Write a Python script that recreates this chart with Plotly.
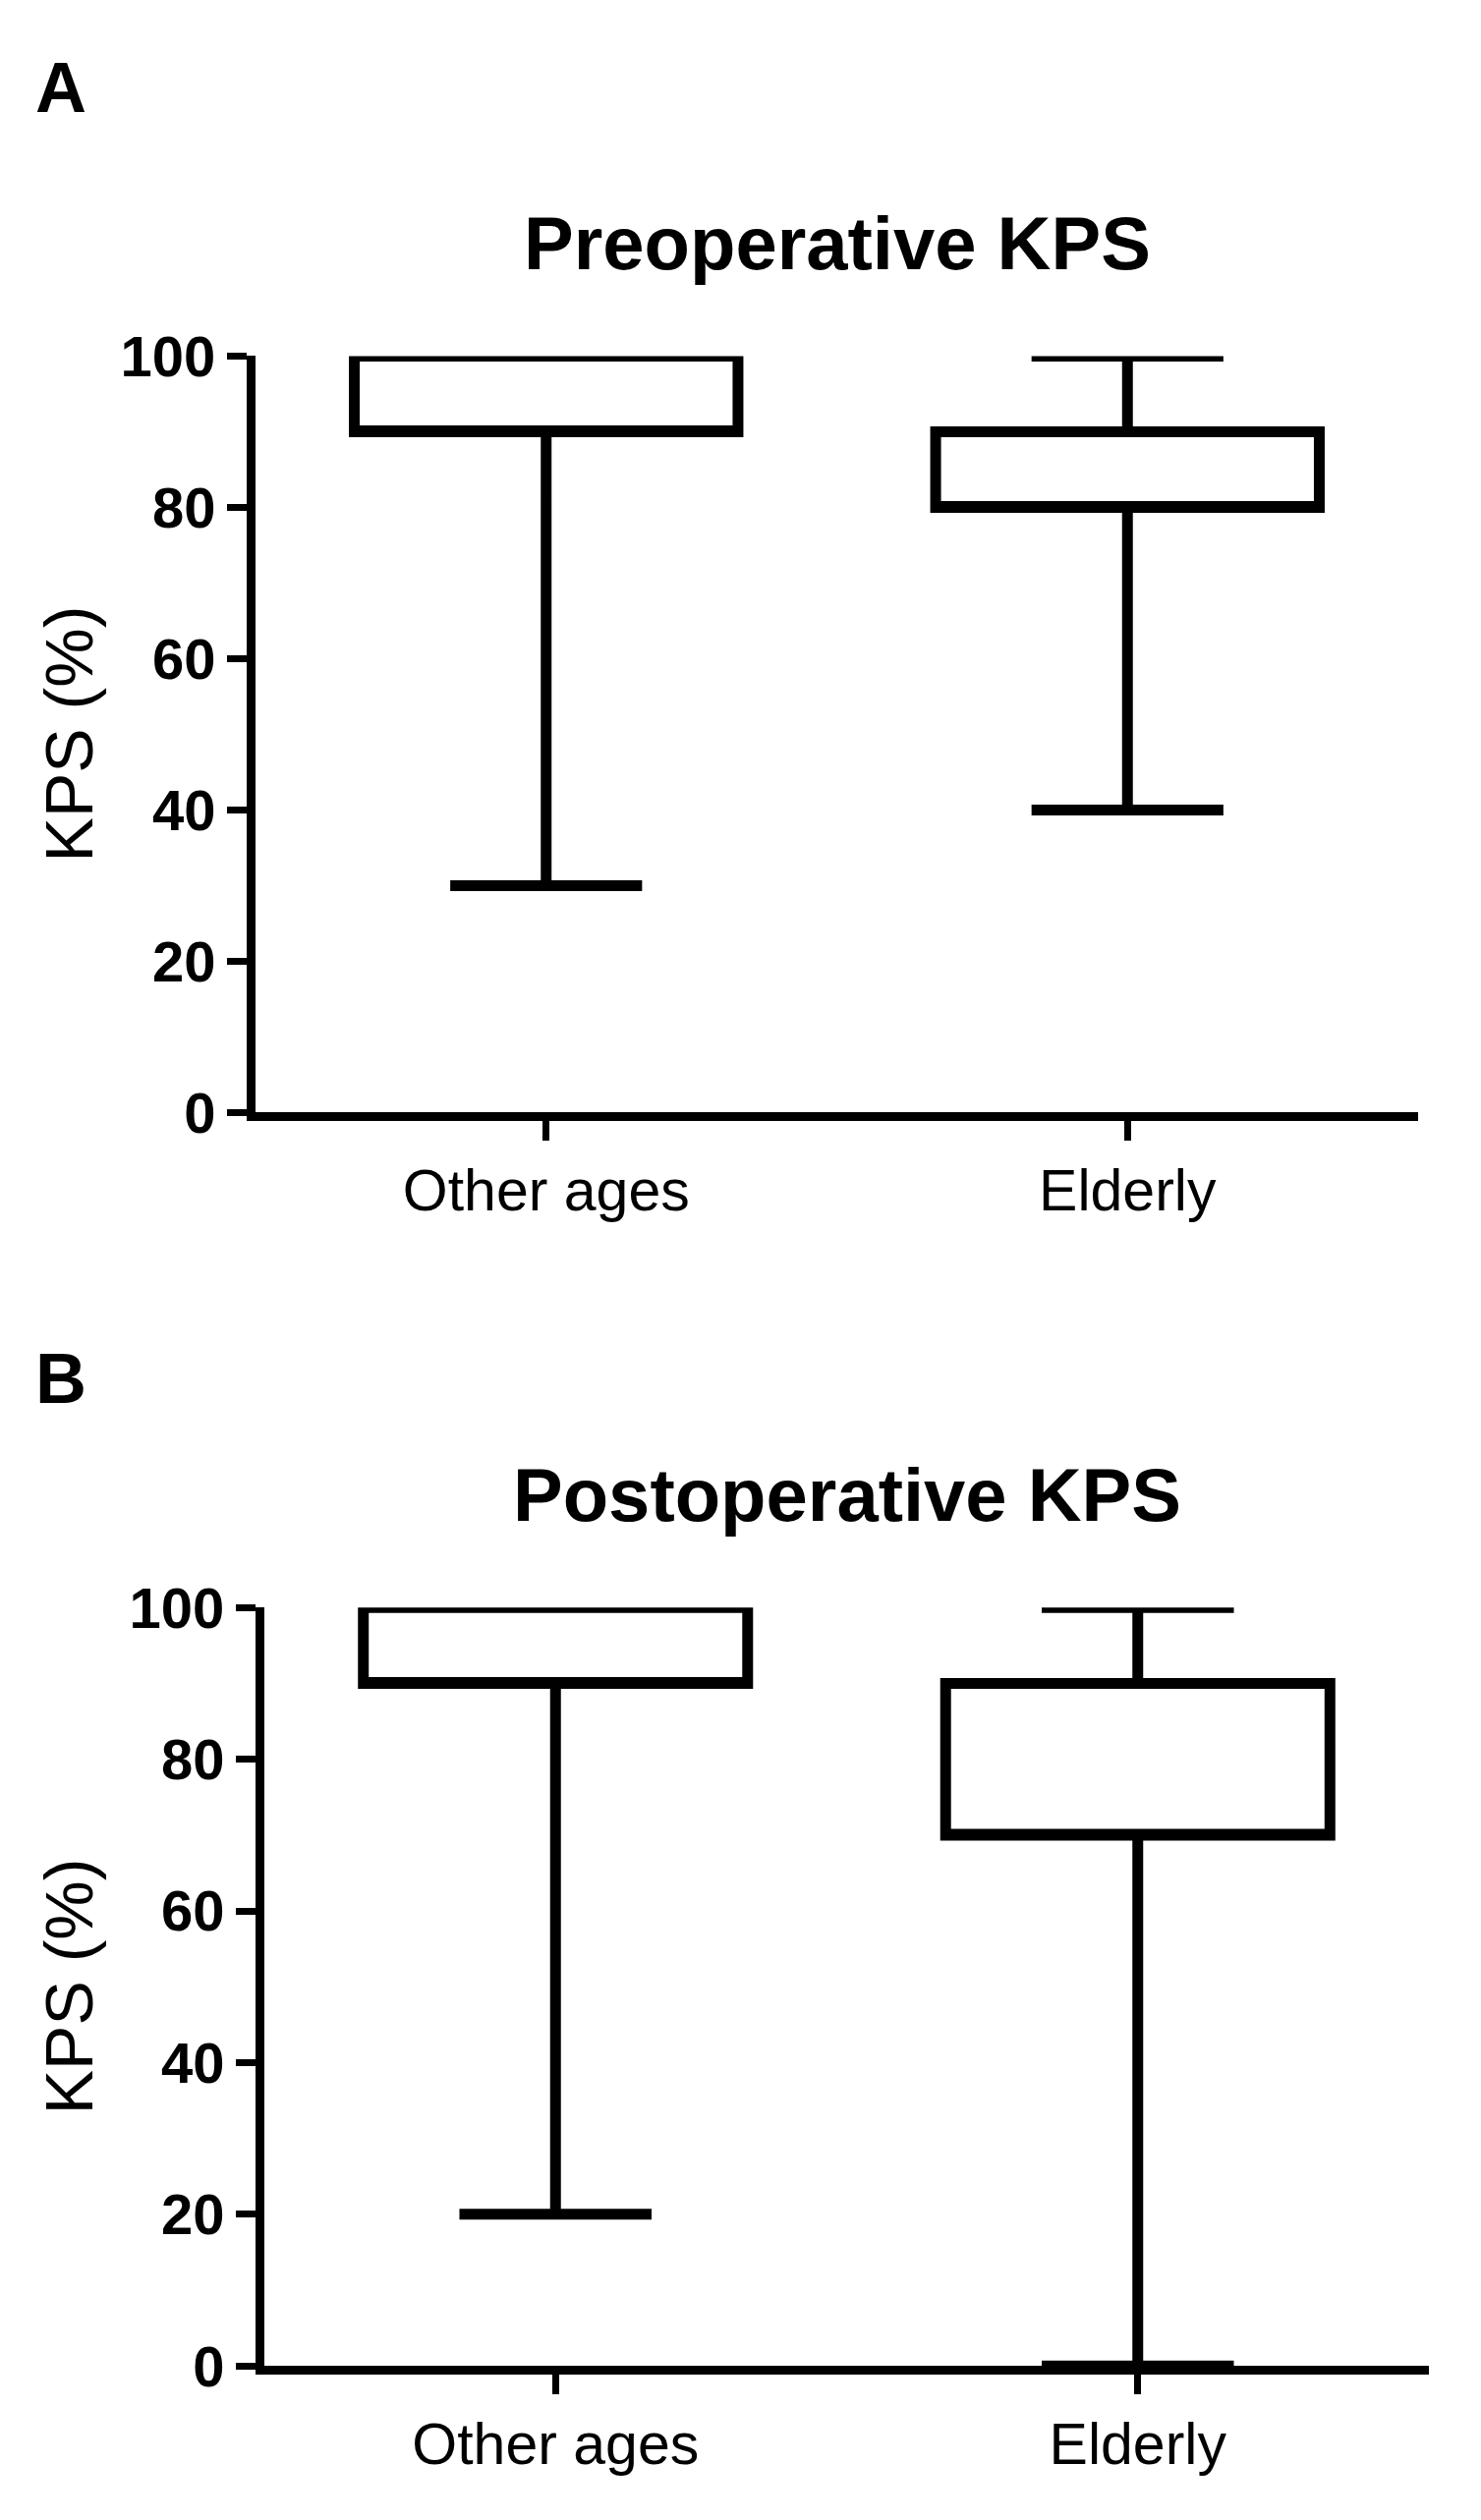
import plotly.graph_objects as go

# ---- data ----
categories = ["Other ages", "Elderly"]

pre_lower = [30, 40]
pre_q1 = [90, 80]
pre_median = [90, 80]
pre_q3 = [100, 90]
pre_upper = [100, 100]

post_lower = [20, 0]
post_q1 = [90, 70]
post_median = [90, 70]
post_q3 = [100, 90]
post_upper = [100, 100]

y_ticks = [0, 20, 40, 60, 80, 100]
panel_titles = ["Preoperative KPS", "Postoperative KPS"]
panel_letters = ["A", "B"]
y_title = "KPS (%)"

W, H = 1507, 2565
FONT = "Arial, Liberation Sans, sans-serif"

fig = go.Figure()

fig.add_trace(go.Box(
    x=categories, q1=pre_q1, median=pre_median, q3=pre_q3,
    lowerfence=pre_lower, upperfence=pre_upper,
    width=0.66, whiskerwidth=0.5, boxpoints=False,
    line=dict(color="black", width=11), fillcolor="white",
    xaxis="x", yaxis="y", showlegend=False, hoverinfo="skip"))

fig.add_trace(go.Box(
    x=categories, q1=post_q1, median=post_median, q3=post_q3,
    lowerfence=post_lower, upperfence=post_upper,
    width=0.66, whiskerwidth=0.5, boxpoints=False,
    line=dict(color="black", width=11), fillcolor="white",
    xaxis="x2", yaxis="y2", showlegend=False, hoverinfo="skip"))

def px_x(p):
    return p / W

def px_y(p):
    return 1 - p / H

panels = [
    # x_left, x_right, y_top, y_bottom
    (260, 1443, 338, 1128),
    (269, 1454, 1645, 2437),
]

xaxis_common = dict(
    showline=True, linewidth=9, linecolor="black", mirror=False,
    ticks="outside", ticklen=20, tickwidth=7, tickcolor="black",
    showgrid=False, zeroline=False, range=[-0.5, 1.5],
    tickfont=dict(family=FONT, size=59, color="black"),
    fixedrange=True,
)
yaxis_common = dict(
    showline=True, linewidth=9, linecolor="black", mirror=False,
    ticks="outside", ticklen=20, tickwidth=7, tickcolor="black",
    showgrid=False, zeroline=False, range=[0, 100],
    tickvals=y_ticks, ticktext=[str(v) for v in y_ticks],
    tickfont=dict(family=FONT, size=58, color="black", weight="bold"),
    fixedrange=True,
)

layout = dict(
    width=W, height=H,
    margin=dict(l=0, r=0, t=0, b=0),
    paper_bgcolor="white", plot_bgcolor="white",
    showlegend=False,
)
annotations = []
for i, (xl, xr, yt, yb) in enumerate(panels):
    sfx = "" if i == 0 else str(i + 1)
    layout["xaxis" + sfx] = dict(xaxis_common, domain=[px_x(xl), px_x(xr)],
                                 anchor="y" + sfx)
    layout["yaxis" + sfx] = dict(yaxis_common, domain=[px_y(yb), px_y(yt)],
                                 anchor="x" + sfx)
    # panel title
    annotations.append(dict(
        text=panel_titles[i], xref="paper", yref="paper",
        x=px_x((xl + xr) / 2), y=px_y(yt - 118),
        xanchor="center", yanchor="middle", showarrow=False,
        font=dict(family=FONT, size=76, color="black", weight="bold")))
    # panel letter
    annotations.append(dict(
        text=panel_letters[i], xref="paper", yref="paper",
        x=px_x(62), y=px_y([57, 1406][i]),
        xanchor="center", yanchor="middle", showarrow=False,
        font=dict(family=FONT, size=72, color="black", weight="bold")))
    # y-axis title
    annotations.append(dict(
        text=y_title, xref="paper", yref="paper",
        x=px_x(70), y=px_y((yt + yb) / 2),
        xanchor="center", yanchor="middle", showarrow=False, textangle=-90,
        font=dict(family=FONT, size=68, color="black")))

layout["annotations"] = annotations
fig.update_layout(**layout)

fig.write_html(
    "out.html",
    config={"displayModeBar": False},
    post_script="document.body.style.margin='0';document.body.style.overflow='hidden';",
)
